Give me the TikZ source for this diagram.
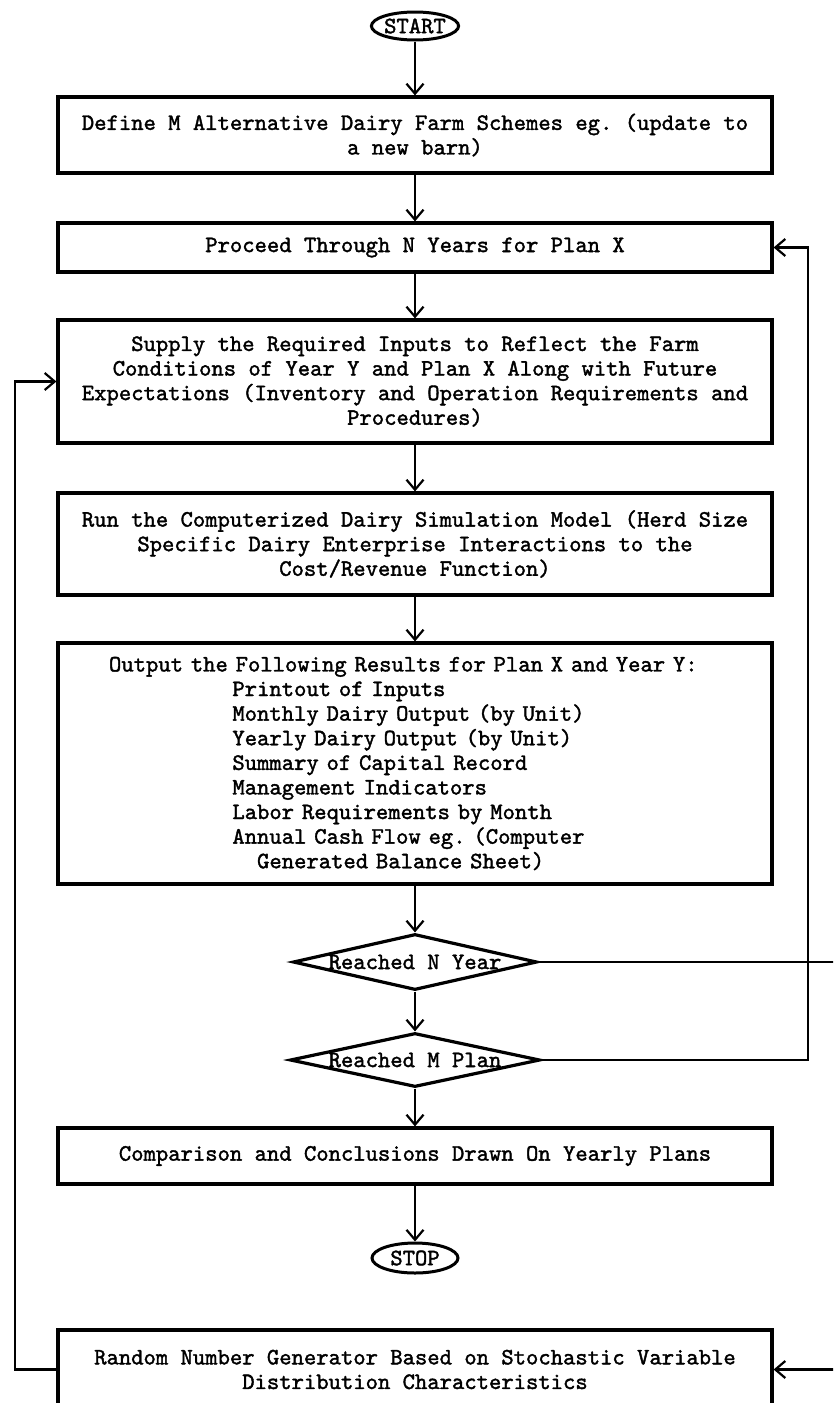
\documentclass[tikz,border=0pt]{standalone}
\usepackage{fontspec}
\usetikzlibrary{arrows.meta,shapes.geometric}

\newlength{\du}
\setlength{\du}{1pt}
\newfontfamily\flowtt{lmmono10-regular}[Extension=.otf, FakeBold=1.6]
\newcommand{\flowfont}{\fontsize{23.5}{24.6}\selectfont\flowtt\frenchspacing}

\tikzset{
  block/.style={draw, line width=3.2\du, minimum width=714\du, inner sep=0pt, align=center, font=\flowfont},
  terminal/.style={draw, ellipse, line width=3\du, minimum width=86\du, minimum height=28\du, inner sep=0pt, font=\flowfont},
  decision/.style={draw, diamond, line width=3.2\du, inner sep=0pt, font=\flowfont},
  flow/.style={line width=2.2\du, -{Straight Barb[length=10pt,width=17pt]}},
}

\begin{document}
\begin{tikzpicture}
\pgftransformyscale{-1.000000}
\useasboundingbox (0\du,0\du) rectangle (833\du,1403\du);
\clip (0\du,0\du) rectangle (833\du,1403\du);
% main column
\node[terminal] (start) at (415\du,26\du){START};
\node[block, minimum height=76\du] (define) at (415\du,135\du){Define M Alternative Dairy Farm Schemes eg. (update to\\a new barn)};
\node[block, minimum height=49\du] (proceed) at (415\du,247.5\du){Proceed Through N Years for Plan X};
\node[block, minimum height=123\du] (supply) at (415\du,381.5\du){Supply the Required Inputs to Reflect the Farm\\Conditions of Year Y and Plan X Along with Future\\Expectations (Inventory and Operation Requirements and\\Procedures)};
\node[block, minimum height=102\du] (run) at (415\du,544\du){Run the Computerized Dairy Simulation Model (Herd Size\\Specific Dairy Enterprise Interactions to the\\Cost/Revenue Function)};
\node[block, minimum height=241\du, text width=612\du, align=left] (output) at (415\du,763.5\du){\makebox[0pt][l]{Output the Following Results for Plan X and Year Y:}\\
\hspace*{123.4\du}Printout of Inputs\\
\hspace*{123.4\du}Monthly Dairy Output (by Unit)\\
\hspace*{123.4\du}Yearly Dairy Output (by Unit)\\
\hspace*{123.4\du}Summary of Capital Record\\
\hspace*{123.4\du}Management Indicators\\
\hspace*{123.4\du}Labor Requirements by Month\\
\hspace*{123.4\du}Annual Cash Flow eg. (Computer\\
\hspace*{148.1\du}Generated Balance Sheet)};
\node[decision, minimum width=244\du, minimum height=56\du] (nyear) at (415\du,962\du){\makebox[0pt]{Reached N Year}};
\node[decision, minimum width=250\du, minimum height=54\du] (mplan) at (415\du,1060\du){\makebox[0pt]{Reached M Plan}};
\node[block, minimum height=56\du] (compare) at (415\du,1156\du){Comparison and Conclusions Drawn On Yearly Plans};
\node[terminal, minimum height=30\du] (stop) at (415\du,1258\du){STOP};
\node[block, minimum height=79\du] (random) at (415\du,1369.5\du){Random Number Generator Based on Stochastic Variable\\Distribution Characteristics};

% return lines
\coordinate (leftrail) at (15\du,0\du);
\coordinate (rightrail) at (808\du,0\du);
\coordinate (farrail) at (850\du,0\du);

\draw[flow] (start) -- (define);
\draw[flow] (define) -- (proceed);
\draw[flow] (proceed) -- (supply);
\draw[flow] (supply) -- (run);
\draw[flow] (run) -- (output);
\draw[flow] (output) -- (nyear);
\draw[flow] (nyear) -- (mplan);
\draw[flow] (mplan) -- (compare);
\draw[flow] (compare) -- (stop);

\draw[flow] (mplan.east) -- (mplan.east -| rightrail) -- (rightrail |- proceed.east) -- (proceed.east);
\draw[flow] (nyear.east) -- (nyear.east -| farrail) -- (farrail |- random.east) -- (random.east);
\draw[flow] (random.west) -- (random.west -| leftrail) -- (leftrail |- supply.west) -- (supply.west);
\end{tikzpicture}
\end{document}
